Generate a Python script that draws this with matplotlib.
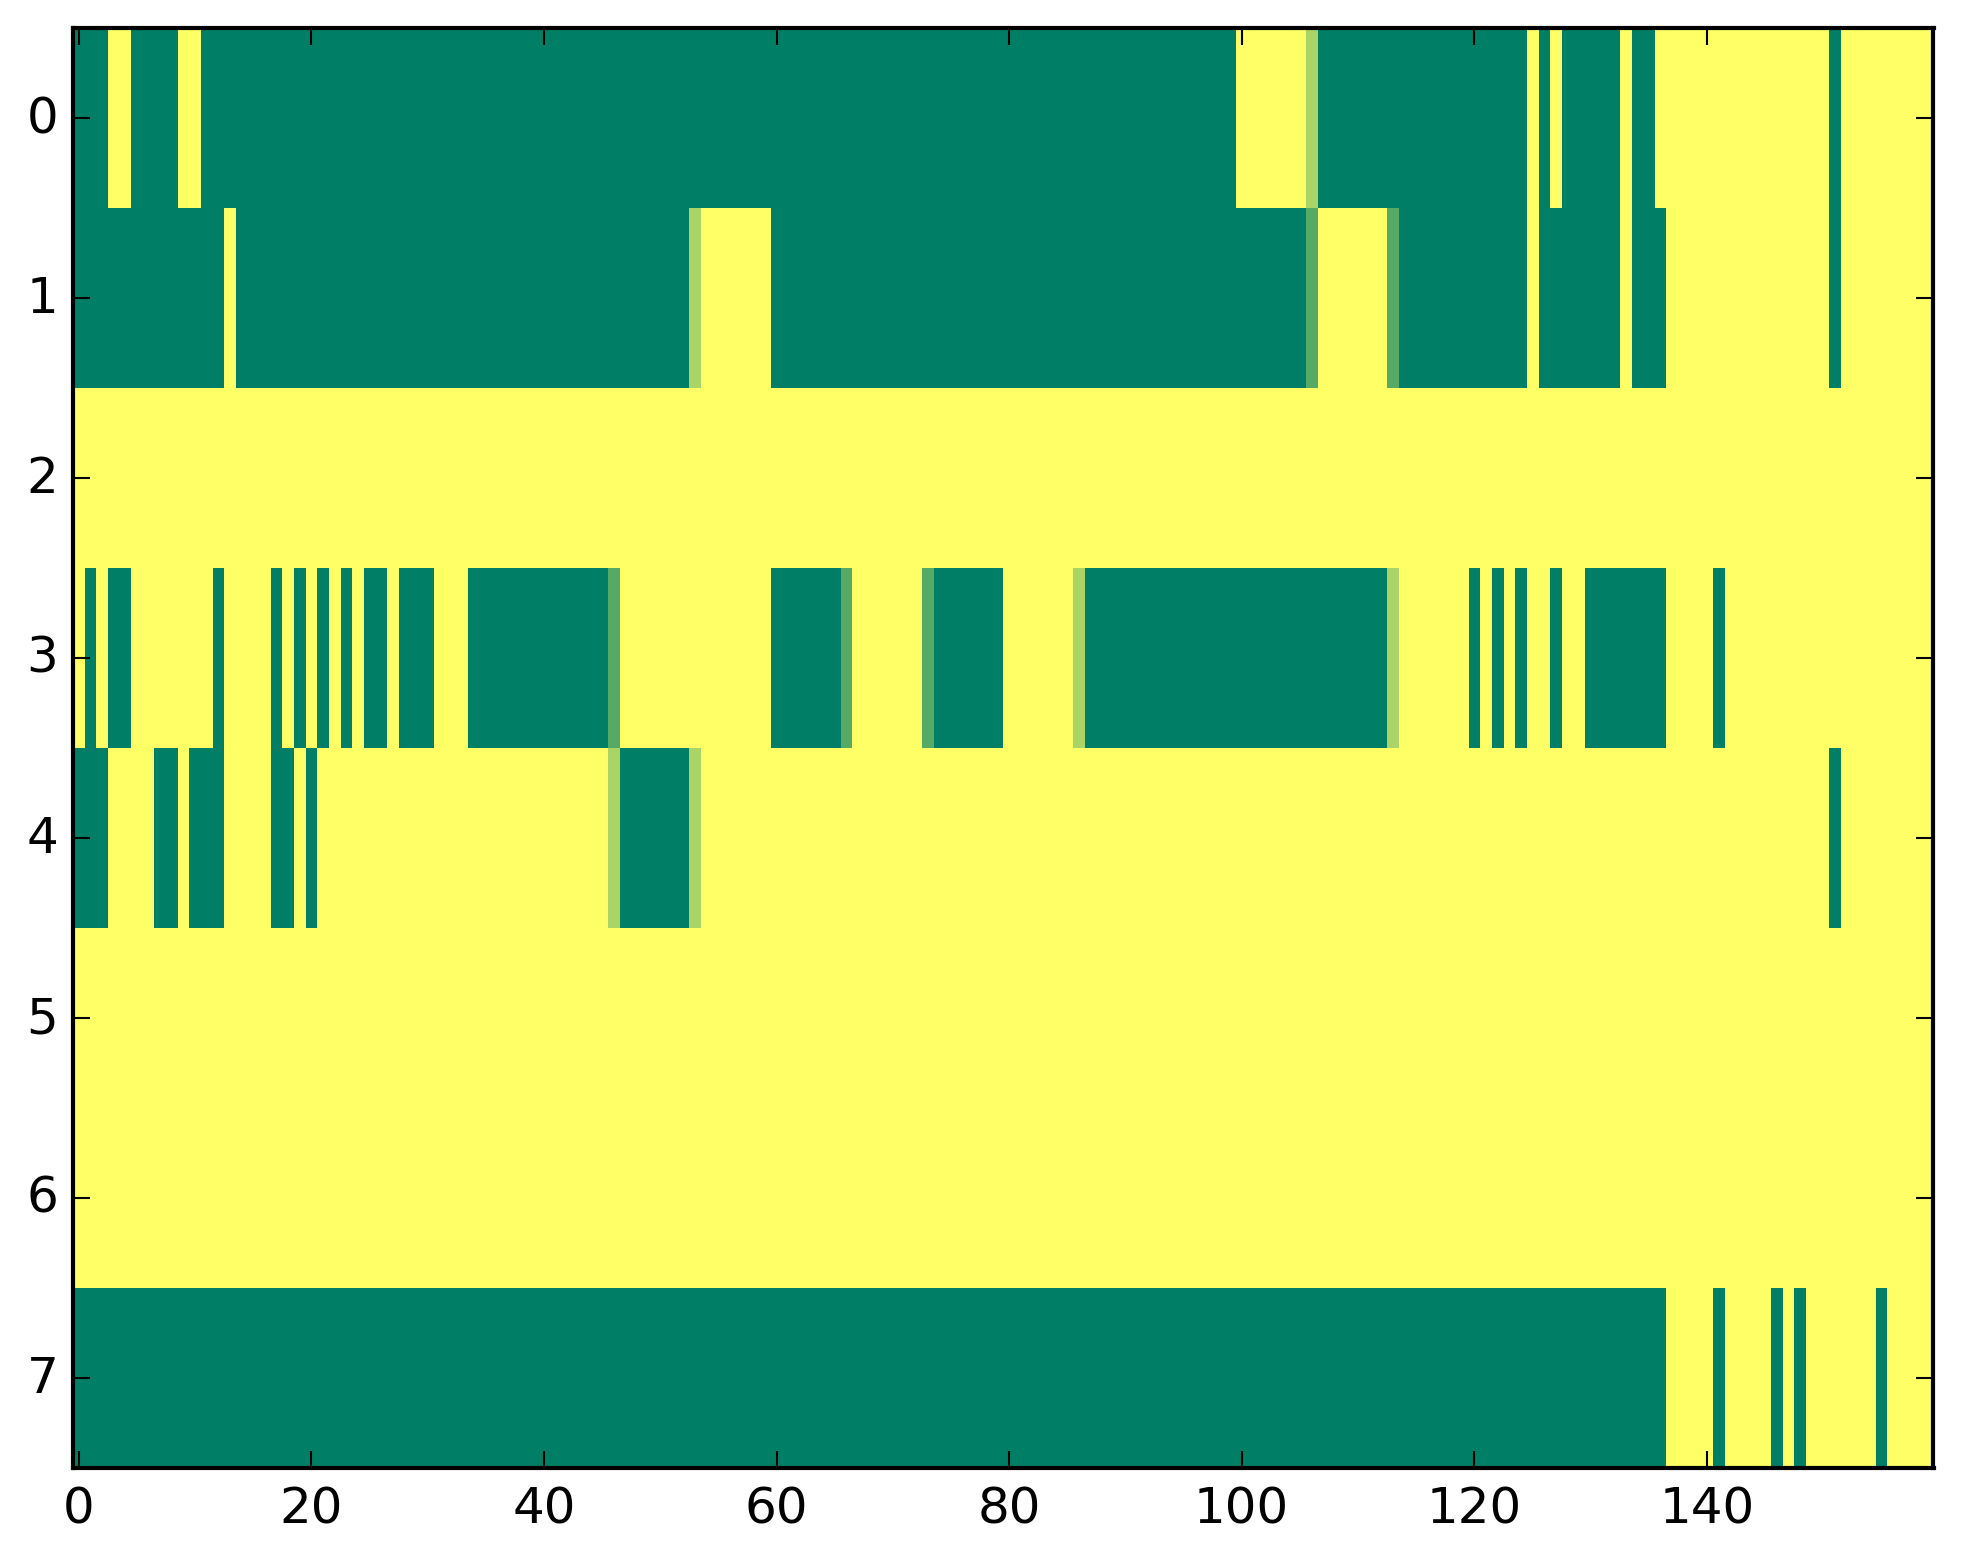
import numpy as np
import matplotlib
matplotlib.use("Agg")
import matplotlib.pyplot as plt

# Each row: (value, number of consecutive columns)
row_0 = [(0,3),(1,2),(0,4),(1,2),(0,89),(1,6),(0.667,1),(0,18),(1,1),(0,1),(1,1),(0,5),(1,1),(0,2),(1,15),(0,1),(1,8)]
row_1 = [(0,13),(1,1),(0,39),(0.667,1),(1,6),(0,46),(0.333,1),(1,6),(0.333,1),(0,11),(1,1),(0,7),(1,1),(0,3),(1,14),(0,1),(1,8)]
row_2 = [(1,160)]
row_3 = [(1,1),(0,1),(1,1),(0,2),(1,7),(0,1),(1,4),(0,1),(1,1),(0,1),(1,1),(0,1),(1,1),(0,1),(1,1),(0,2),(1,1),(0,3),(1,3),
         (0,12),(0.333,1),(1,13),(0,6),(0.333,1),(1,6),(0.333,1),(0,6),(1,6),(0.667,1),(0,26),(0.667,1),(1,6),
         (0,1),(1,1),(0,1),(1,1),(0,1),(1,2),(0,1),(1,2),(0,7),(1,4),(0,1),(1,18)]
row_4 = [(0,3),(1,4),(0,2),(1,1),(0,3),(1,4),(0,2),(1,1),(0,1),(1,25),(0.667,1),(0,6),(0.667,1),(1,97),(0,1),(1,8)]
row_5 = [(1,160)]
row_6 = [(1,160)]
row_7 = [(0,137),(1,4),(0,1),(1,4),(0,1),(1,1),(0,1),(1,6),(0,1),(1,4)]
rows = [row_0, row_1, row_2, row_3, row_4, row_5, row_6, row_7]

x_ticks = [0, 20, 40, 60, 80, 100, 120, 140]
y_ticks = [0, 1, 2, 3, 4, 5, 6, 7]

matrix = np.array([[v for v, n in r for _ in range(n)] for r in rows], dtype=float)

W, H = 1963, 1564
plt.rcParams['font.family'] = 'DejaVu Sans'
fig = plt.figure(figsize=(W / 300, H / 300), dpi=300)
ax = fig.add_axes([73.0 / W, 1 - 1469 / H, (1933.5 - 73.0) / W, (1469 - 29) / H])
ax.imshow(matrix, cmap='summer', vmin=0, vmax=1, aspect='auto', interpolation='nearest')
ax.set_xticks(x_ticks)
ax.set_yticks(y_ticks)
ax.tick_params(direction='in', top=True, right=True, length=4, width=0.5, labelsize=12, pad=4)
ax.tick_params(axis='y', pad=3.5)
for lab in ax.get_yticklabels():
    lab.set_verticalalignment('center')
for s in ax.spines.values():
    s.set_linewidth(1.0)
fig.savefig('out.png', dpi=300)
